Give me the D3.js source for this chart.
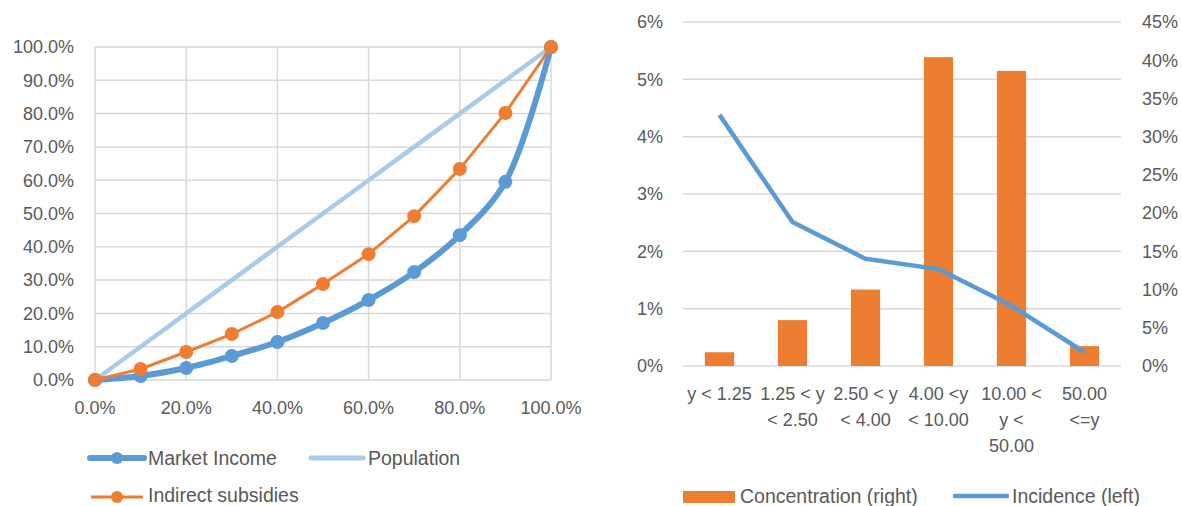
<!DOCTYPE html>
<html lang="en">
<head>
<meta charset="utf-8">
<title>Concentration curves and incidence</title>
<script src="https://d3js.org/d3.v7.min.js"></script>
<style>
  body { margin: 0; background: #fff; }
  svg text { font-family: "Liberation Sans", Arial, sans-serif; fill: #595959; }
  .tick { font-size: 18px; }
  .leg { font-size: 19.5px; }
</style>
</head>
<body>
<div id="chart"></div>
<script>
// ---- data: left chart (cumulative shares) ----
var popShare = [0, 0.1, 0.2, 0.3, 0.4, 0.5, 0.6, 0.7, 0.8, 0.9, 1.0];
var marketIncome = [0, 0.012, 0.036, 0.072, 0.114, 0.171, 0.240, 0.324, 0.435, 0.595, 1.0];
var indirectSubsidies = [0, 0.033, 0.084, 0.138, 0.204, 0.288, 0.378, 0.492, 0.634, 0.802, 1.0];
var population = [0, 0.1, 0.2, 0.3, 0.4, 0.5, 0.6, 0.7, 0.8, 0.9, 1.0];
var leftXTicks = [0, 0.2, 0.4, 0.6, 0.8, 1.0];
var leftYTicks = [0, 0.1, 0.2, 0.3, 0.4, 0.5, 0.6, 0.7, 0.8, 0.9, 1.0];

// ---- data: right chart (income groups) ----
var groups = ["g1", "g2", "g3", "g4", "g5", "g6"];
var groupLabels = [["y < 1.25"], ["1.25 < y", "< 2.50"], ["2.50 < y", "< 4.00"],
                   ["4.00 <y", "< 10.00"], ["10.00 <", "y <", "50.00"], ["50.00", "<=y"]];
var concentration = [0.018, 0.060, 0.100, 0.404, 0.386, 0.026];   // right axis
var incidence = [0.0438, 0.0251, 0.0187, 0.0169, 0.0105, 0.0024];  // left axis
var rightLeftTicks = [0, 0.01, 0.02, 0.03, 0.04, 0.05, 0.06];
var rightRightTicks = [0, 0.05, 0.10, 0.15, 0.20, 0.25, 0.30, 0.35, 0.40, 0.45];

var blue = "#5B9BD5", lightBlue = "#A9CBEA", orange = "#ED7D31", grid = "#D9D9D9";

var svg = d3.select("#chart").append("svg")
    .attr("width", 1182).attr("height", 506);

// ================= left chart =================
var x1 = d3.scaleLinear().domain([0, 1]).range([95, 551]);
var y1 = d3.scaleLinear().domain([0, 1]).range([380, 47]);

var g1 = svg.append("g");

g1.selectAll("line.hg").data(leftYTicks).enter().append("line")
    .attr("x1", x1(0)).attr("x2", x1(1))
    .attr("y1", function(d) { return y1(d); }).attr("y2", function(d) { return y1(d); })
    .attr("stroke", grid).attr("stroke-width", 1.5);
g1.selectAll("line.vg").data(leftXTicks).enter().append("line")
    .attr("y1", y1(0)).attr("y2", y1(1))
    .attr("x1", function(d) { return x1(d); }).attr("x2", function(d) { return x1(d); })
    .attr("stroke", grid).attr("stroke-width", 1.5);

g1.selectAll("text.yt").data(leftYTicks).enter().append("text")
    .attr("class", "tick")
    .attr("x", 74).attr("y", function(d) { return y1(d); })
    .attr("dy", "0.35em").attr("text-anchor", "end")
    .text(d3.format(".1%"));
g1.selectAll("text.xt").data(leftXTicks).enter().append("text")
    .attr("class", "tick")
    .attr("x", function(d) { return x1(d); }).attr("y", 408)
    .attr("dy", "0.35em").attr("text-anchor", "middle")
    .text(d3.format(".1%"));

function pts(vals) { return vals.map(function(v, i) { return [popShare[i], v]; }); }

var straight = d3.line().x(function(d) { return x1(d[0]); }).y(function(d) { return y1(d[1]); });
var smooth = d3.line().curve(d3.curveCatmullRom.alpha(0.5))
    .x(function(d) { return x1(d[0]); }).y(function(d) { return y1(d[1]); });

// population (equality line)
g1.append("path").datum(pts(population)).attr("d", straight)
    .attr("fill", "none").attr("stroke", lightBlue).attr("stroke-width", 4.5);

// market income
g1.append("path").datum(pts(marketIncome)).attr("d", smooth)
    .attr("fill", "none").attr("stroke", blue).attr("stroke-width", 6).attr("stroke-linecap", "round");
g1.selectAll("circle.mi").data(pts(marketIncome)).enter().append("circle")
    .attr("cx", function(d) { return x1(d[0]); }).attr("cy", function(d) { return y1(d[1]); })
    .attr("r", 7).attr("fill", blue);

// indirect subsidies
g1.append("path").datum(pts(indirectSubsidies)).attr("d", straight)
    .attr("fill", "none").attr("stroke", orange).attr("stroke-width", 3);
g1.selectAll("circle.is").data(pts(indirectSubsidies)).enter().append("circle")
    .attr("cx", function(d) { return x1(d[0]); }).attr("cy", function(d) { return y1(d[1]); })
    .attr("r", 7).attr("fill", orange);

// left legend
var lg = g1.append("g");
lg.append("line").attr("x1", 90).attr("x2", 144).attr("y1", 458).attr("y2", 458)
    .attr("stroke", blue).attr("stroke-width", 6).attr("stroke-linecap", "round");
lg.append("circle").attr("cx", 117).attr("cy", 458).attr("r", 6).attr("fill", blue);
lg.append("text").attr("class", "leg").attr("x", 148).attr("y", 458).attr("dy", "0.35em").text("Market Income");
lg.append("line").attr("x1", 311).attr("x2", 363).attr("y1", 458).attr("y2", 458)
    .attr("stroke", lightBlue).attr("stroke-width", 5).attr("stroke-linecap", "round");
lg.append("text").attr("class", "leg").attr("x", 368).attr("y", 458).attr("dy", "0.35em").text("Population");
lg.append("line").attr("x1", 91).attr("x2", 143).attr("y1", 497).attr("y2", 497)
    .attr("stroke", orange).attr("stroke-width", 3);
lg.append("circle").attr("cx", 117).attr("cy", 497).attr("r", 6).attr("fill", orange);
lg.append("text").attr("class", "leg").attr("x", 148).attr("y", 495).attr("dy", "0.35em").text("Indirect subsidies");

// ================= right chart =================
var xb = d3.scaleBand().domain(groups).range([683, 1121]).paddingInner(0.6).paddingOuter(0.3);
var yl = d3.scaleLinear().domain([0, 0.06]).range([366, 22]);
var yr = d3.scaleLinear().domain([0, 0.45]).range([366, 22]);

var g2 = svg.append("g");

g2.selectAll("line.hg").data(rightLeftTicks).enter().append("line")
    .attr("x1", 683).attr("x2", 1121)
    .attr("y1", function(d) { return yl(d); }).attr("y2", function(d) { return yl(d); })
    .attr("stroke", grid).attr("stroke-width", 1.5);

g2.selectAll("text.lt").data(rightLeftTicks).enter().append("text")
    .attr("class", "tick")
    .attr("x", 663).attr("y", function(d) { return yl(d); })
    .attr("dy", "0.35em").attr("text-anchor", "end")
    .text(d3.format(".0%"));
g2.selectAll("text.rt").data(rightRightTicks).enter().append("text")
    .attr("class", "tick")
    .attr("x", 1142).attr("y", function(d) { return yr(d); })
    .attr("dy", "0.35em").attr("text-anchor", "start")
    .text(d3.format(".0%"));

g2.selectAll("rect.bar").data(concentration).enter().append("rect")
    .attr("x", function(d, i) { return xb(groups[i]); })
    .attr("width", xb.bandwidth())
    .attr("y", function(d) { return yr(d); })
    .attr("height", function(d) { return yr(0) - yr(d); })
    .attr("fill", orange);

var incLine = d3.line()
    .x(function(d, i) { return xb(groups[i]) + xb.bandwidth() / 2; })
    .y(function(d) { return yl(d); });
g2.append("path").datum(incidence).attr("d", incLine)
    .attr("fill", "none").attr("stroke", blue).attr("stroke-width", 4.5).attr("stroke-linejoin", "round");

// category labels
g2.selectAll("text.cat").data(groupLabels).enter().append("text")
    .attr("class", "tick").attr("text-anchor", "middle")
    .attr("x", function(d, i) { return xb(groups[i]) + xb.bandwidth() / 2; })
    .attr("y", 394)
    .each(function(lines) {
      var t = d3.select(this), cx = t.attr("x");
      lines.forEach(function(s, k) {
        t.append("tspan").attr("x", cx).attr("dy", k === 0 ? "0.35em" : "26px").text(s);
      });
    });

// right legend
var rg = g2.append("g");
rg.append("rect").attr("x", 683).attr("y", 491).attr("width", 52).attr("height", 12).attr("fill", orange);
rg.append("text").attr("class", "leg").attr("x", 740).attr("y", 496).attr("dy", "0.35em").text("Concentration (right)");
rg.append("line").attr("x1", 955).attr("x2", 1007).attr("y1", 496).attr("y2", 496)
    .attr("stroke", blue).attr("stroke-width", 4.5).attr("stroke-linecap", "round");
rg.append("text").attr("class", "leg").attr("x", 1012).attr("y", 496).attr("dy", "0.35em").text("Incidence (left)");
</script>
</body>
</html>
